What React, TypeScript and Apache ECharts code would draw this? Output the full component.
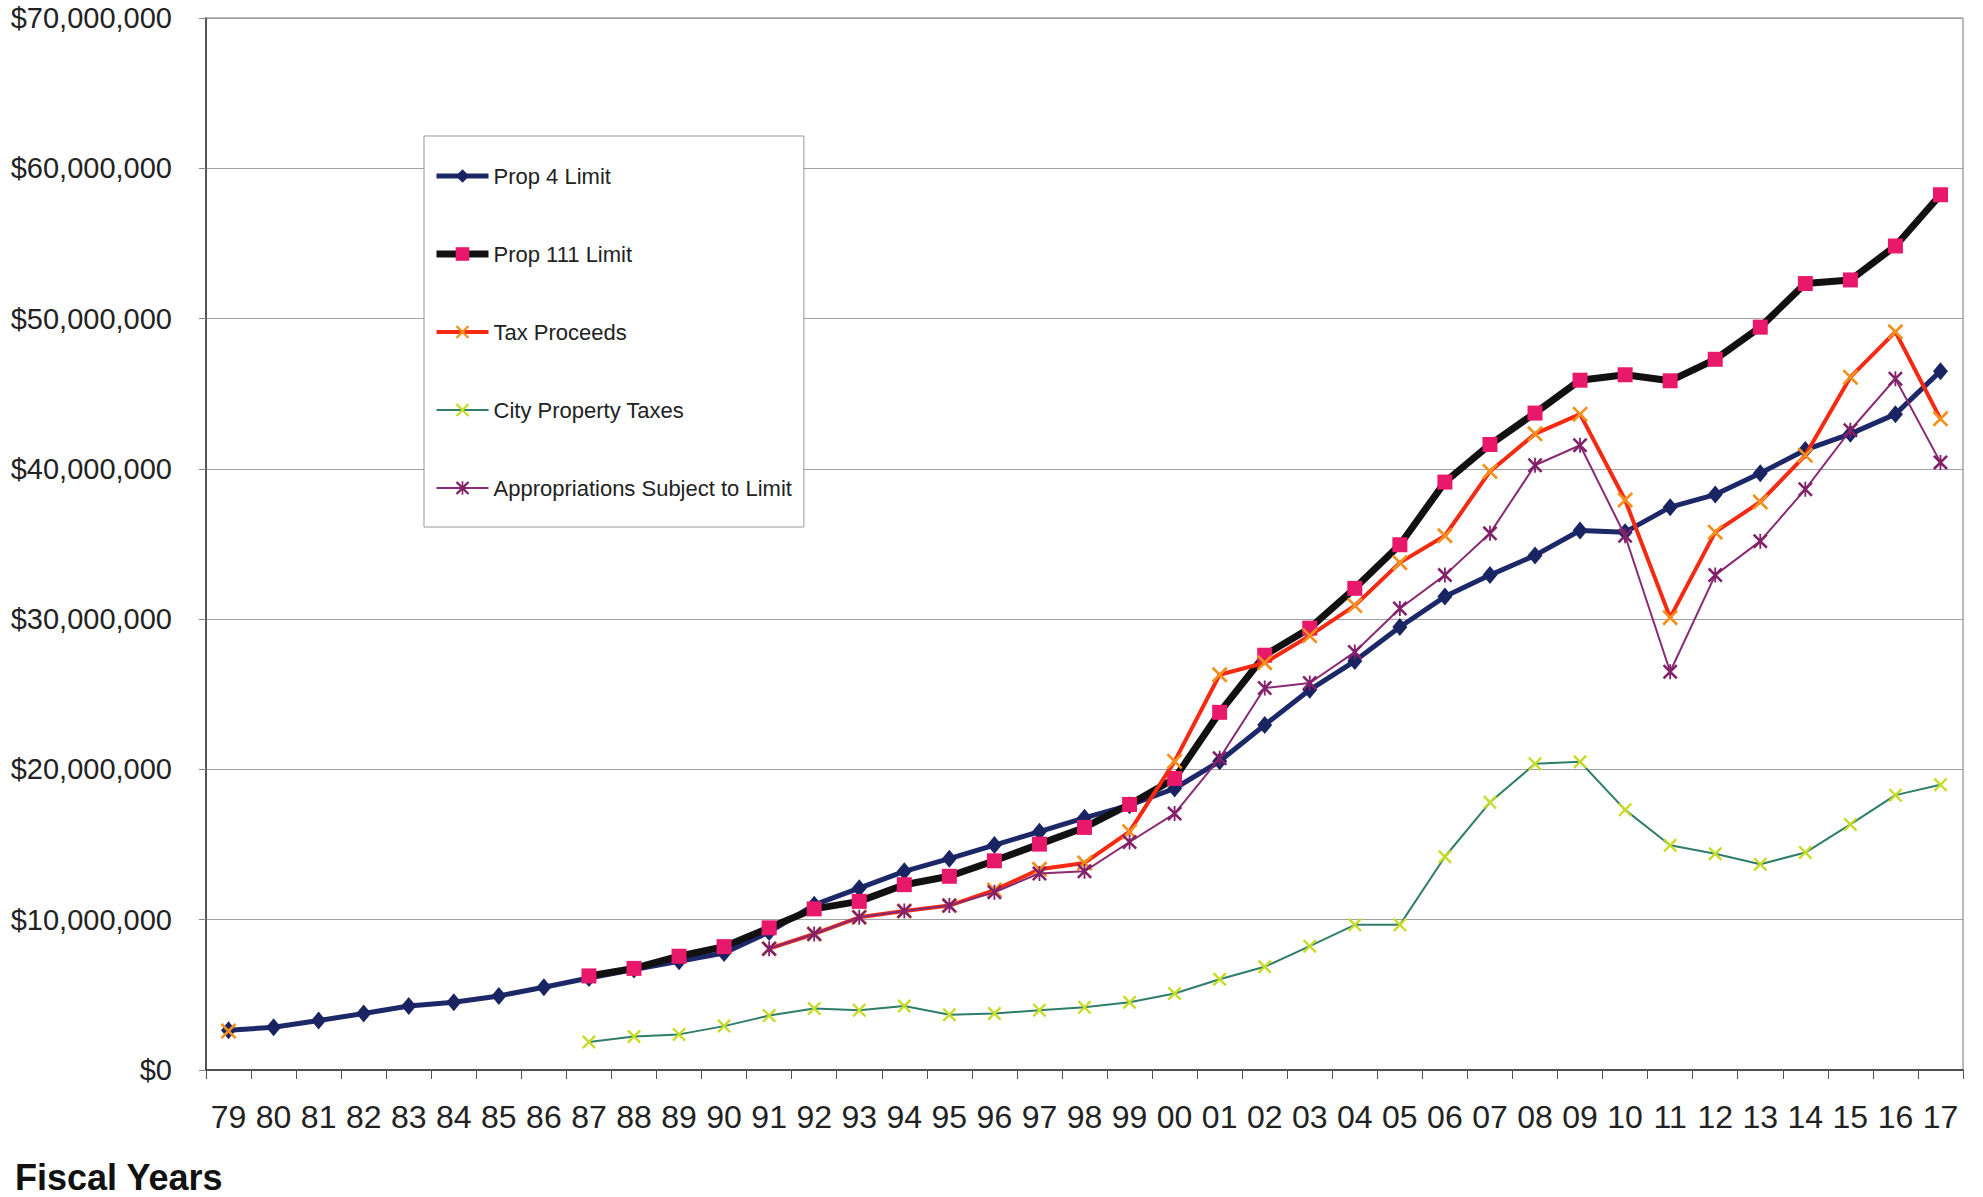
import React, { useEffect, useRef } from "react";
import * as echarts from "echarts";

const years = ["79","80","81","82","83","84","85","86","87","88","89","90","91","92","93","94","95","96","97","98","99","00","01","02","03","04","05","06","07","08","09","10","11","12","13","14","15","16","17"];

// values in millions of dollars
const prop4Limit = [2.65,2.84,3.29,3.76,4.26,4.51,4.93,5.51,6.12,6.68,7.24,7.79,9.18,10.99,12.1,13.22,14.06,14.97,15.86,16.78,17.62,18.73,20.54,22.96,25.3,27.21,29.48,31.5,32.93,34.24,35.9,35.79,37.45,38.29,39.71,41.26,42.33,43.64,46.5];
const prop111Limit = [null,null,null,null,null,null,null,null,6.26,6.76,7.57,8.21,9.46,10.72,11.22,12.33,12.89,13.92,15.03,16.14,17.67,19.4,23.8,27.6,29.4,32.05,34.95,39.12,41.62,43.71,45.9,46.26,45.86,47.29,49.43,52.33,52.57,54.83,58.24];
const taxProceeds = [2.59,null,null,null,null,null,null,null,null,null,null,null,8.07,9.05,10.16,10.58,10.94,11.97,13.36,13.78,15.86,20.54,26.3,27.1,28.9,30.9,33.76,35.55,39.83,42.33,43.64,37.93,30.1,35.79,37.8,40.9,46.1,49.12,43.33];
const cityPropertyTaxes = [null,null,null,null,null,null,null,null,1.86,2.23,2.37,2.92,3.62,4.09,3.98,4.26,3.67,3.76,3.98,4.17,4.51,5.09,6.04,6.87,8.24,9.66,9.66,14.19,17.81,20.37,20.51,17.31,14.95,14.39,13.69,14.47,16.34,18.29,18.98];
const appropriations = [null,null,null,null,null,null,null,null,null,null,null,null,8.07,9.05,10.16,10.58,10.94,11.83,13.08,13.22,15.17,17.06,20.74,25.42,25.75,27.81,30.71,32.93,35.71,40.24,41.57,35.55,26.5,32.93,35.19,38.64,42.57,46.0,40.43];

const seriesNames = ["Prop 4 Limit","Prop 111 Limit","Tax Proceeds","City Property Taxes","Appropriations Subject to Limit"];
const lineColors = ["#1d2869","#111111","#f42a12","#2f7d6a","#8a2a72"];
const markerColors = ["#1a2463","#e8196b","#f3901e","#c6dc26","#82206a"];
const lineWidths = [5, 7, 4, 2, 2];

const X_SYMBOL = "path://M0,1.2L1.2,0L10,8.8L8.8,10Z M8.8,0L10,1.2L1.2,10L0,8.8Z";
const STAR_SYMBOL = "path://M0,1.2L1.2,0L10,8.8L8.8,10Z M8.8,0L10,1.2L1.2,10L0,8.8Z M4.4,0H5.6V10H4.4Z";
const symbols = ["diamond", "rect", X_SYMBOL, X_SYMBOL, STAR_SYMBOL];
const symbolSizes: any[] = [[15, 18], 15, 16, 14, 15];
const seriesData = [prop4Limit, prop111Limit, taxProceeds, cityPropertyTaxes, appropriations];

const FONT = "'Liberation Sans', Arial, sans-serif";

export default function App() {
  const ref = useRef<HTMLDivElement>(null);
  useEffect(() => {
    if (!ref.current) return;
    const chart = echarts.init(ref.current, null, { renderer: "svg" });
    const option = {
      animation: false,
      backgroundColor: "#ffffff",
      grid: {
        left: 206,
        top: 18,
        right: 20,
        bottom: 127,
        show: true,
        borderColor: "#777",
        borderWidth: 1,
        backgroundColor: "transparent",
      },
      legend: {
        orient: "vertical",
        left: 424,
        top: 136,
        padding: [29, 12, 28, 9],
        itemGap: 56,
        itemWidth: 52,
        itemHeight: 17,
        backgroundColor: "#ffffff",
        borderColor: "#999",
        borderWidth: 1,
        selectedMode: false,
        textStyle: { fontFamily: FONT, fontSize: 22, color: "#222", lineHeight: 22 },
        data: seriesNames.map((n, i) => ({
          name: n,
          lineStyle: { width: lineWidths[i], color: lineColors[i] },
        })),
      },
      xAxis: {
        type: "category",
        data: years,
        boundaryGap: true,
        axisLine: { lineStyle: { color: "#333", width: 1.5 } },
        axisTick: { show: true, length: 9, lineStyle: { color: "#555" } },
        axisLabel: {
          interval: 0,
          margin: 31,
          fontFamily: FONT,
          fontSize: 32,
          color: "#222",
        },
        splitLine: { show: false },
      },
      yAxis: {
        type: "value",
        min: 0,
        max: 70,
        interval: 10,
        axisLine: { show: true, lineStyle: { color: "#333", width: 1.5 } },
        axisTick: { show: true, length: 7, lineStyle: { color: "#888" } },
        axisLabel: {
          margin: 34,
          fontFamily: FONT,
          fontSize: 29,
          color: "#222",
          formatter: (v: number) => "$" + Math.round(v * 1e6).toLocaleString("en-US"),
        },
        splitLine: { show: true, lineStyle: { color: "#a0a0a0", width: 1 } },
      },
      graphic: [
        {
          type: "text",
          left: 15,
          top: 1159,
          style: { text: "Fiscal Years", font: "bold 36px " + FONT, fill: "#111" },
        },
      ],
      series: seriesNames.map((n, i) => ({
        name: n,
        type: "line",
        data: seriesData[i],
        symbol: symbols[i],
        symbolSize: symbolSizes[i],
        lineStyle: { color: lineColors[i], width: lineWidths[i] },
        itemStyle: { color: markerColors[i] },
        z: 2 + i,
      })),
    };
    chart.setOption(option as any);
    return () => chart.dispose();
  }, []);
  return (
    <div
      ref={ref}
      style={{ position: "fixed", left: 0, top: 0, width: 1983, height: 1197, background: "#fff" }}
    />
  );
}
